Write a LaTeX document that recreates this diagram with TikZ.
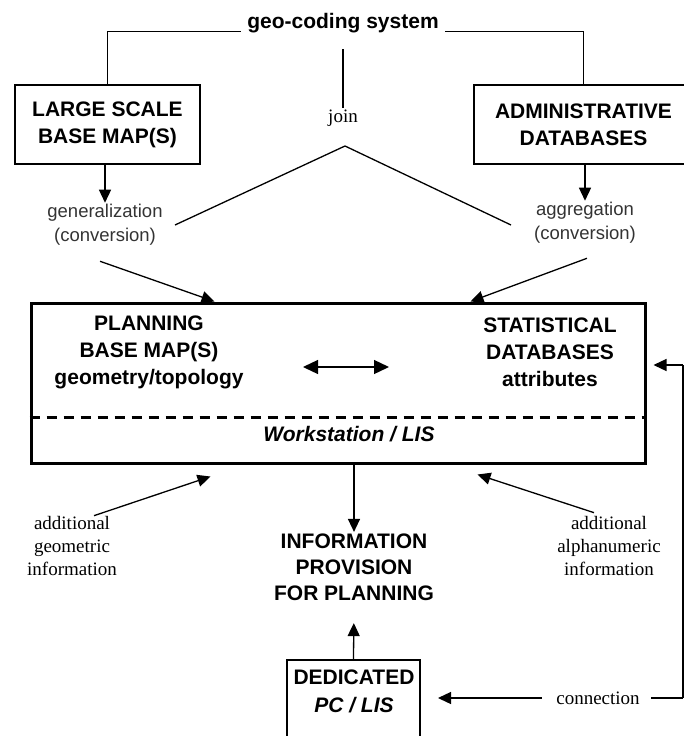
\documentclass[tikz,border=0pt]{standalone}
\usepackage{fontspec}
\setmainfont{Liberation Sans}
\newfontfamily\serifface{Liberation Serif}
\usepackage{tikz}
\usetikzlibrary{positioning}
\usetikzlibrary{arrows.meta}
\newcommand{\headfont}{\fontsize{21}{27}\selectfont\bfseries} % bold capitals of the boxes
\newcommand{\notefont}{\fontsize{18.5}{24}\selectfont} % sans notes under the top boxes
\newcommand{\sidefont}{\serifface\fontsize{19}{23}\selectfont} % serif side notes

\begin{document}
\begin{tikzpicture}[x=1pt, y=-1pt,
        >={Triangle[length=13pt,width=12pt]},
        line width=1.3pt,
        box/.style={draw, line width=2pt, align=center, font=\headfont, inner sep=0pt},
        head/.style={align=center, font=\headfont, inner sep=1pt},
        note/.style={align=center, font=\notefont, text=black!80, inner sep=1pt},
        side/.style={align=center, font=\sidefont, inner sep=1pt}]
        \clip (0,0) rectangle (684,736);

        % Sources
        \node[head] (geo) at (343,23) {geo-coding system};
        \node[box, minimum width=185, minimum height=79] (lsbm) at (107.5,124.5) {LARGE SCALE\\BASE MAP(S)};
        \node[box, minimum width=219, minimum height=79] (admin) at (583.5,124.5) {ADMINISTRATIVE\\DATABASES};
        \node[side] (join) at (343,118) {join};
        \node[note] (gen) at (105,225) {generalization\\(conversion)};
        \node[note] (agg) at (585,223) {aggregation\\(conversion)};

        \draw ([shift={(-5,3)}]geo.base west) -| (lsbm.north);
        \draw ([shift={(5,3)}]geo.base east) -| (admin.north);
        \coordinate (jtop) at (343,49);
        \draw (jtop) -- (join.north);
        \coordinate (apex) at (345,146);
        \coordinate (vl) at (175,225);
        \coordinate (vr) at (511,225);
        \draw (vl) -- (apex) -- (vr);

        \draw[->] (gen |- lsbm.south) -- (gen.north);
        \draw[->] (agg |- admin.south) -- (agg.north);

        % Workstation
        \node[draw, line width=3pt, minimum width=614, minimum height=160] (ws) at (338,383) {};
        \node[head] (plan) at (149,352) {PLANNING\\BASE MAP(S)\\geometry/topology};
        \node[head] (stat) at (550,352) {STATISTICAL\\DATABASES\\attributes};
        \node[head, font=\headfont\itshape] (work) at (349,434) {Workstation / LIS};
        \draw[line width=3pt, dash pattern=on 10pt off 7pt] ([yshift=47pt]ws.south west) -- ([yshift=47pt]ws.south east);
        \coordinate (dl) at (303,367);
        \coordinate (dr) at (389,367);
        \draw[{Triangle[length=15pt,width=14pt]}-{Triangle[length=15pt,width=14pt]}] (dl) -- (dr);

        \draw[->] ([shift={(-5,14)}]gen.south) -- ([xshift=185pt]ws.north west);
        \draw[->] ([shift={(2,13)}]agg.south) -- ([xshift=-176pt]ws.north east);

        % Output
        \node[head, font=\fontsize{21}{26}\selectfont\bfseries] (info) at (354,567) {INFORMATION\\PROVISION\\FOR PLANNING};
        \node[side] (addg) at (72,546) {additional\\geometric\\information};
        \node[side] (adda) at (609,546) {additional\\alphanumeric\\information};
        \draw[->] (info |- ws.south) -- (info.north);
        \draw[->] ([shift={(22,1)}]addg.north) -- ([shift={(181,12)}]ws.south west);
        \draw[->] ([shift={(-15,-2)}]adda.north) -- ([shift={(-169,10)}]ws.south east);

        % Dedicated PC
        \node[box, minimum width=133, minimum height=100] (ded) at (353.5,710) {};
        \node[head, font=\fontsize{21}{28}\selectfont\bfseries] (dedtxt) at (354,691) {DEDICATED\\\textit{PC / LIS}};
        \draw[->, shorten >=21pt] (ded.north) -- (info.south);
        \node[side] (conn) at (598,698) {connection};
        \draw[->, shorten <=13pt, shorten >=17pt] (conn.west) -- (ded.east |- conn);
        \coordinate (rc) at (683,698);
        \coordinate (rt) at (683,365);
        \draw[shorten <=10pt] (conn.east) -- (rc);
        \draw (rc) -- (rt);
        \draw[->, shorten >=7pt] (rt) -- (ws.east |- rt);
\end{tikzpicture}
\end{document}
